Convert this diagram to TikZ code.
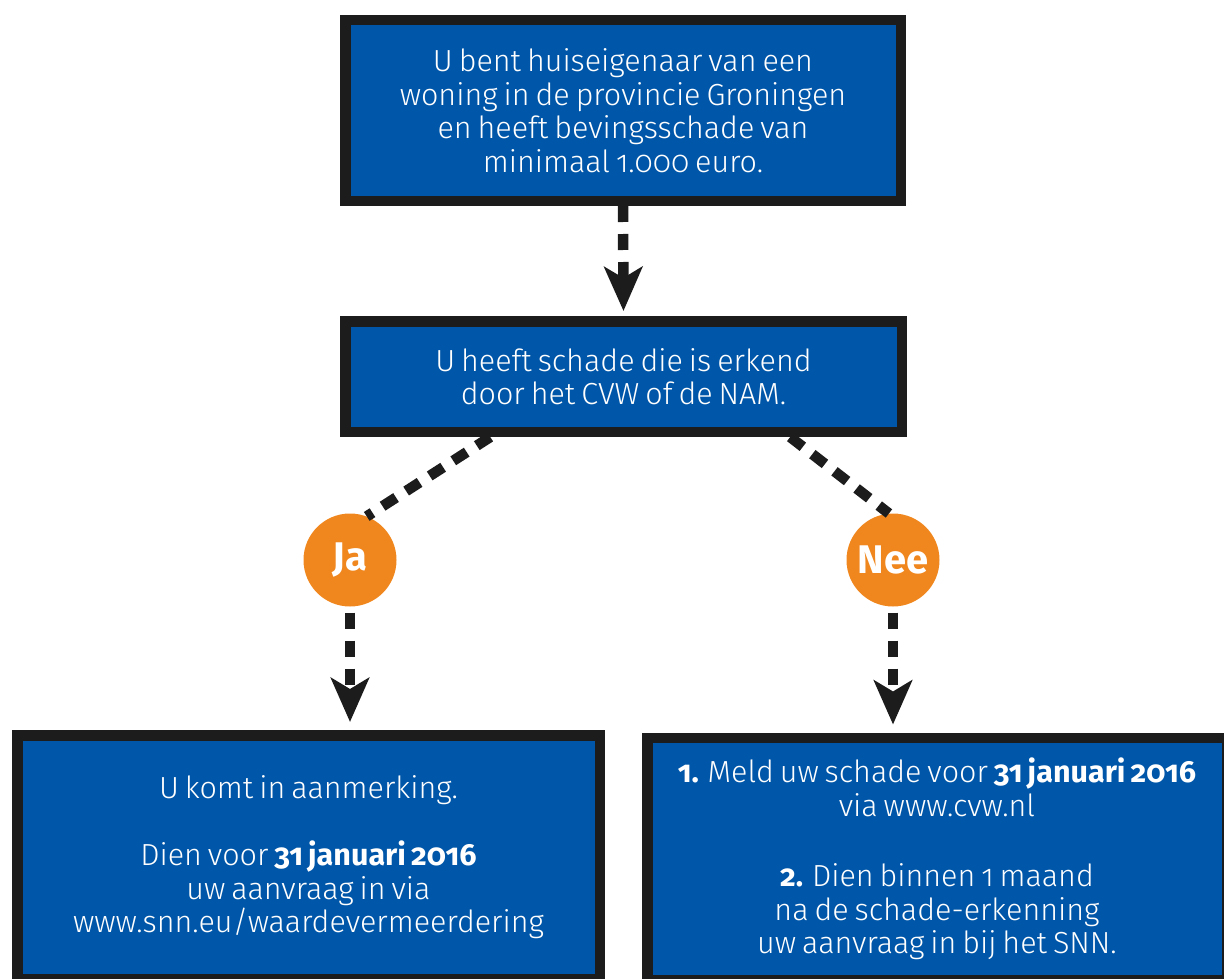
\documentclass[tikz,border=0pt]{standalone}
\usepackage{fontspec}
\setmainfont{Fira Sans Light}[BoldFont=Fira Sans Bold, Numbers=OldStyle, WordSpace=0.7]
\usetikzlibrary{arrows.meta,calc}
\definecolor{boxblue}{RGB}{0,86,168}
\definecolor{boxborder}{RGB}{28,28,28}
\definecolor{circorange}{RGB}{240,135,30}
\begin{document}
\begin{tikzpicture}[x=1pt,y=-1pt,
  infobox/.style={draw=boxborder, line width=10.5pt, fill=boxblue, text=white,
    inner sep=0pt, align=center, font=\fontsize{30.5}{33.5}\selectfont},
  answer/.style={circle, fill=circorange, text=white, inner sep=0pt,
    minimum size=93pt, font=\fontsize{40}{40}\selectfont\bfseries},
  dashline/.style={draw=boxborder, line width=10.5pt, dash pattern=on 16pt off 12pt},
  dasharrow/.style={dashline, -{Stealth[length=44pt,width=38pt,inset=11pt]}}
]
\useasboundingbox (0,0) rectangle (1224,979);

\node[infobox, minimum width=555.5pt, minimum height=180.5pt] (top) at (623,110.5)
  {U bent huiseigenaar van een\\woning in de provincie Groningen\\en heeft bevingsschade van\\minimaal 1.000 euro.};

\node[infobox, minimum width=556.5pt, minimum height=110.5pt] (mid) at (623.5,376.5)
  {U heeft schade die is erkend\\door het CVW of de NAM.};

\node[answer] (ja) at (350,560) {Ja};
\node[answer] (nee) at (893,560) {Nee};

\node[infobox, minimum width=582.5pt, minimum height=243.5pt] (bl) at (308.5,857)
  {U komt in aanmerking.\\[34pt]Dien voor \textbf{31 januari 2016}\\uw aanvraag in via\\www.snn.eu/waardevermeerdering};

\node[infobox, minimum width=579.5pt, minimum height=242.5pt] (br) at (937,859)
  {\textbf{1.} Meld uw schade voor \textbf{31 januari 2016}\\via www.cvw.nl\\[37pt]\textbf{2.} Dien binnen 1 maand\\na de schade-erkenning\\uw aanvraag in bij het SNN.};

\draw[dasharrow, shorten >=5pt] (top.south) -- (mid.north);
\draw[dashline] ($(mid.south west)!0.265!(mid.south east)$) -- (ja.69);
\draw[dashline] ($(mid.south west)!0.794!(mid.south east)$) -- (nee.95);
\draw[dasharrow, shorten <=6pt, shorten >=8pt] (ja.south) -- (ja.south |- bl.north);
\draw[dasharrow, shorten <=6pt, shorten >=8pt] (nee.south) -- (nee.south |- br.north);
\end{tikzpicture}
\end{document}
